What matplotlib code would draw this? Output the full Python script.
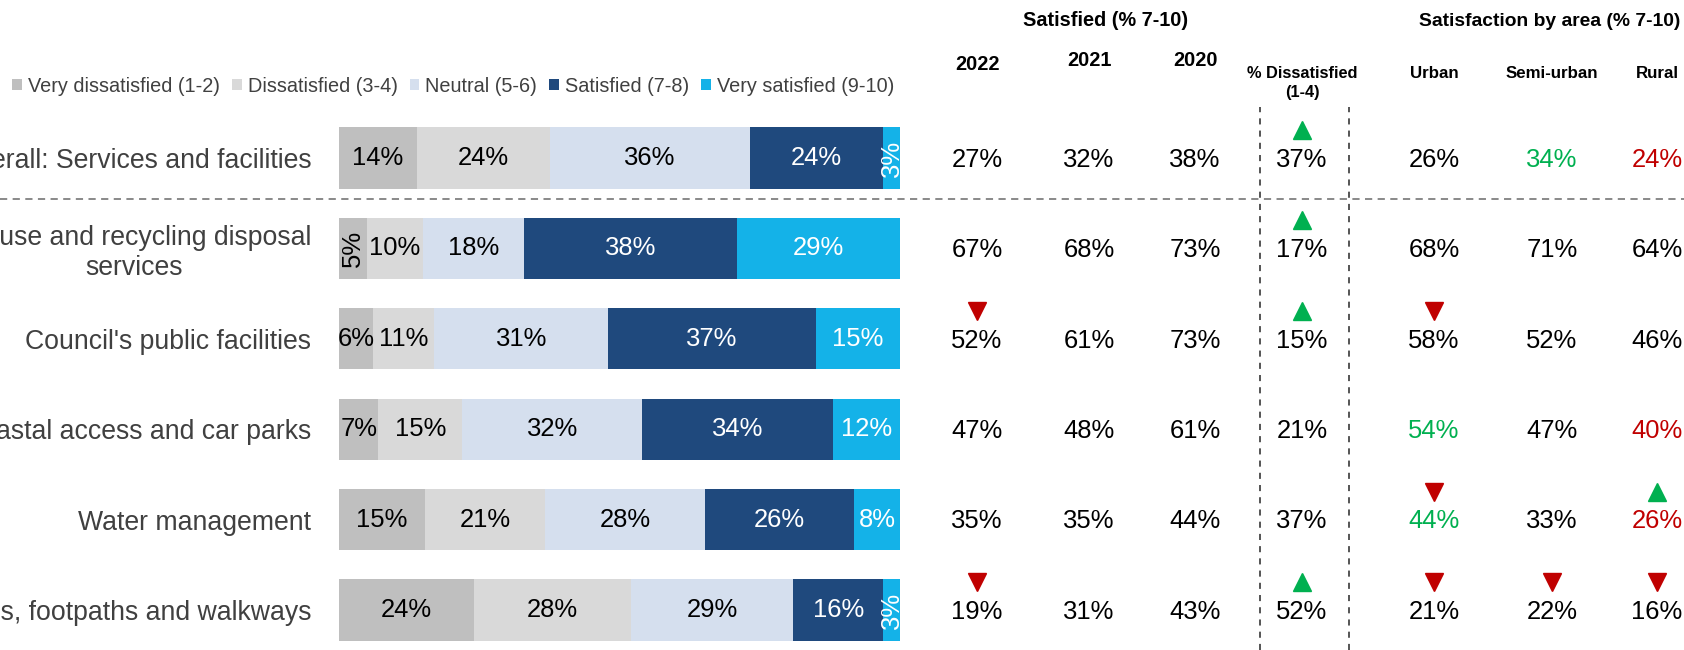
import matplotlib
matplotlib.use("Agg")
import matplotlib.pyplot as plt
from matplotlib import font_manager
from matplotlib.lines import Line2D
from matplotlib.transforms import blended_transform_factory

categories = ["Overall: Services and facilities",
              "Refuse and recycling disposal\nservices",
              "Council's public facilities",
              "Coastal access and car parks",
              "Water management",
              "Roads, footpaths and walkways"]

segment_names = ["Very dissatisfied (1-2)", "Dissatisfied (3-4)", "Neutral (5-6)",
                 "Satisfied (7-8)", "Very satisfied (9-10)"]
very_dissatisfied = [14, 5, 6, 7, 15, 24]
dissatisfied = [24, 10, 11, 15, 21, 28]
neutral = [36, 18, 31, 32, 28, 29]
satisfied = [24, 38, 37, 34, 26, 16]
very_satisfied = [3, 29, 15, 12, 8, 3]

sat_2022 = [27, 67, 52, 47, 35, 19]
sat_2021 = [32, 68, 61, 48, 35, 31]
sat_2020 = [38, 73, 73, 61, 44, 43]
dissat_1_4 = [37, 17, 15, 21, 37, 52]
urban = [26, 68, 58, 54, 44, 21]
semi_urban = [34, 71, 52, 47, 33, 22]
rural = [24, 64, 46, 40, 26, 16]

# 1 = up arrow, -1 = down arrow
trend_2022 = [0, 0, -1, 0, 0, -1]
trend_dissat = [1, 1, 1, 0, 0, 1]
trend_urban = [0, 0, -1, 0, -1, -1]
trend_semi = [0, 0, 0, 0, 0, -1]
trend_rural = [0, 0, 0, 0, 1, -1]

# 1 = significantly higher (green), -1 = lower (red)
sig_urban = [0, 0, 0, 1, 1, 0]
sig_semi = [1, 0, 0, 0, 0, 0]
sig_rural = [-1, 0, 0, -1, -1, 0]

colors = ['#bfbfbf', '#d9d9d9', '#d5dfee', '#1f497d', '#14b2e8']
text_colors = ['black', 'black', 'black', 'white', 'white']
GREEN = '#00b050'
RED = '#c00000'

names = {f.name for f in font_manager.fontManager.ttflist}
if 'Liberation Sans Narrow' in names:
    plt.rcParams['font.family'] = ['Liberation Sans Narrow', 'DejaVu Sans']
    k = 1.0
else:
    plt.rcParams['font.family'] = ['Liberation Sans', 'DejaVu Sans']
    k = 0.84

W, H = 1684, 650
fig = plt.figure(figsize=(W / 100, H / 100), dpi=100)

row0_px, row_step_px = 158, 90.4
ax = fig.add_axes([339 / W, 0, 561 / W, 1])
ax.set_xlim(0, 100)
ax.set_ylim((H - row0_px) / row_step_px, -row0_px / row_step_px)

series = [very_dissatisfied, dissatisfied, neutral, satisfied, very_satisfied]
rows = list(range(len(categories)))
totals = [sum(s[i] for s in series) for i in rows]
left = [0.0] * len(rows)
handles = []
for vals, name, col, tcol in zip(series, segment_names, colors, text_colors):
    widths = [v / t * 100 for v, t in zip(vals, totals)]
    bars = ax.barh(rows, widths, left=left, height=0.675, color=col, label=name)
    handles.append(bars)
    for i, (v, w) in enumerate(zip(vals, widths)):
        rot = 90 if v < 6 else 0
        ax.text(left[i] + w / 2, i, f"{v}%", ha='center', va='center',
                rotation=rot, color=tcol, fontsize=22 * k)
    left = [a + b for a, b in zip(left, widths)]

ax.set_yticks(rows, categories)
ax.tick_params(axis='y', length=0, pad=20, labelsize=22.8 * k, labelcolor='#404040')
for lab in ax.get_yticklabels():
    lab.set_multialignment('center')
ax.set_xticks([])
for sp in ax.spines.values():
    sp.set_visible(False)

ax.legend(handles=handles, loc='center left', bbox_to_anchor=(12 / W, 1 - 86 / H),
          bbox_transform=fig.transFigure, ncol=5, frameon=False, fontsize=17 * k,
          handlelength=0.5, handleheight=0.5, handletextpad=0.3, columnspacing=0.6,
          borderaxespad=0, borderpad=0, labelcolor='#404040')

trans = blended_transform_factory(fig.transFigure, ax.transData)

# separator below the overall row
ax.plot([0, 1], [0.45, 0.45], transform=trans, color='#808080', lw=1.3,
        ls=(0, (4, 3)), clip_on=False)
for xp in (1260, 1349):
    fig.add_artist(Line2D([xp / W, xp / W], [0, 1 - 107 / H], transform=fig.transFigure,
                          color='#262626', lw=1.1, ls=(0, (4, 4))))

columns = [
    (977, sat_2022, trend_2022, None),
    (1089, sat_2021, None, None),
    (1195, sat_2020, None, None),
    (1302, dissat_1_4, trend_dissat, None),
    (1434, urban, trend_urban, sig_urban),
    (1552, semi_urban, trend_semi, sig_semi),
    (1657, rural, trend_rural, sig_rural),
]
for xp, vals, trend, sig in columns:
    x = xp / W
    for i, v in enumerate(vals):
        c = 'black'
        if sig is not None and sig[i] == 1:
            c = GREEN
        elif sig is not None and sig[i] == -1:
            c = RED
        ax.text(x, i + 0.02, f"{v}%", transform=trans, ha='center', va='center',
                fontsize=22 * k, color=c, clip_on=False)
        if trend is not None and trend[i] != 0:
            up = trend[i] > 0
            ax.plot([x], [i - 0.31], transform=trans, marker='^' if up else 'v',
                    ms=12.5, color=GREEN if up else RED, ls='none', clip_on=False)

# headers
fig.text(1106 / W, 1 - 21 / H, "Satisfied (% 7-10)", ha='center', va='center',
         fontsize=17 * k, fontweight='bold')
fig.text(1550 / W, 1 - 21 / H, "Satisfaction by area (% 7-10)", ha='center', va='center',
         fontsize=16.5 * k, fontweight='bold')
for xp, yp, lab in [(977, 64, "2022"), (1089, 61, "2021"), (1195, 61, "2020")]:
    fig.text(xp / W, 1 - yp / H, lab, ha='center', va='center', fontsize=17 * k,
             fontweight='bold')
fig.text(1302 / W, 1 - 83 / H, "% Dissatisfied\n(1-4)", ha='center', va='center',
         fontsize=14 * k, fontweight='bold', linespacing=1.35)
for xp, lab in [(1434, "Urban"), (1552, "Semi-urban"), (1657, "Rural")]:
    fig.text(xp / W, 1 - 73 / H, lab, ha='center', va='center', fontsize=14.5 * k,
             fontweight='bold')

fig.savefig('out.png', dpi=100)
